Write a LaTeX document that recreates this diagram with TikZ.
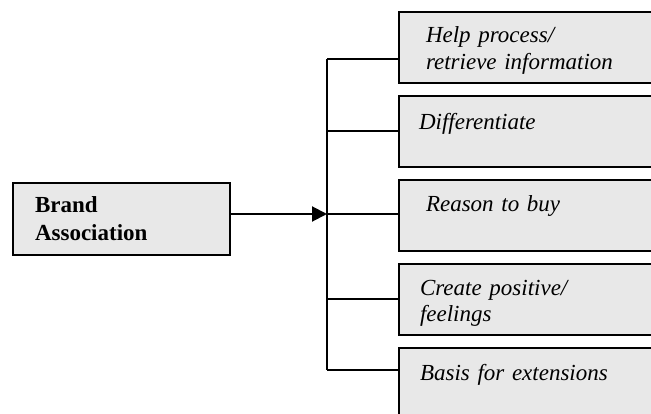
\documentclass[tikz,border=0pt]{standalone}
\usepackage{fontspec}
\setmainfont{Liberation Serif}
\usepackage{tikz}
\usetikzlibrary{calc}
\usetikzlibrary{arrows.meta}
\definecolor{boxgray}{RGB}{232,232,232}

\begin{document}
\begin{tikzpicture}[x=1pt, y=-1pt, line width=2pt,
		box/.style={draw, fill=boxgray, inner sep=0pt},
		item/.style={box, anchor=north west, minimum width=262pt, minimum height=71pt},
		lbl/.style={anchor=base west, inner sep=0pt, text width=230pt, align=left, font=\fontsize{23}{27}\selectfont\itshape}]
			% \draw[very thin, gray, dashed](0, 0)grid[step=50](651, 414);
			\clip (0, 0) rectangle (651, 414);

			\node[box, minimum width=217pt, minimum height=72pt, text width=173pt, inner xsep=22pt, align=left, font=\fontsize{23}{28}\selectfont\bfseries] (brand) at (121.5, 219) {Brand\\Association};

			\node[item] (help) at (398, 11) {};
			\node[item] (diff) at (398, 95) {};
			\node[item] (reason) at (398, 179) {};
			\node[item] (feel) at (398, 263) {};
			\node[item] (basis) at (398, 347) {};

			\node[lbl] (helptext) at (425, 43) {Help process/\\retrieve information};
			\node[lbl] (difftext) at (418, 130) {Differentiate};
			\node[lbl] (reasontext) at (425, 212) {Reason to buy};
			\node[lbl] (feeltext) at (419, 295) {Create positive/\\feelings};
			\node[lbl] (basistext) at (419, 380) {Basis for extensions};

			\coordinate (top) at (327, 59);
			\coordinate (j2) at (327, 131);
			\coordinate (hub) at (327, 214);
			\coordinate (j4) at (327, 299);
			\coordinate (bot) at (327, 370);

			\draw (top)--(bot);
			\draw (top)--(top -| help.west);
			\draw (j2)--(j2 -| diff.west);
			\draw (hub)--(hub -| reason.west);
			\draw (j4)--(j4 -| feel.west);
			\draw (bot)--(bot -| basis.west);

			\draw[-{Triangle[length=15pt, width=15pt]}] (brand.east |- hub)--(hub);
		\end{tikzpicture}
\end{document}
